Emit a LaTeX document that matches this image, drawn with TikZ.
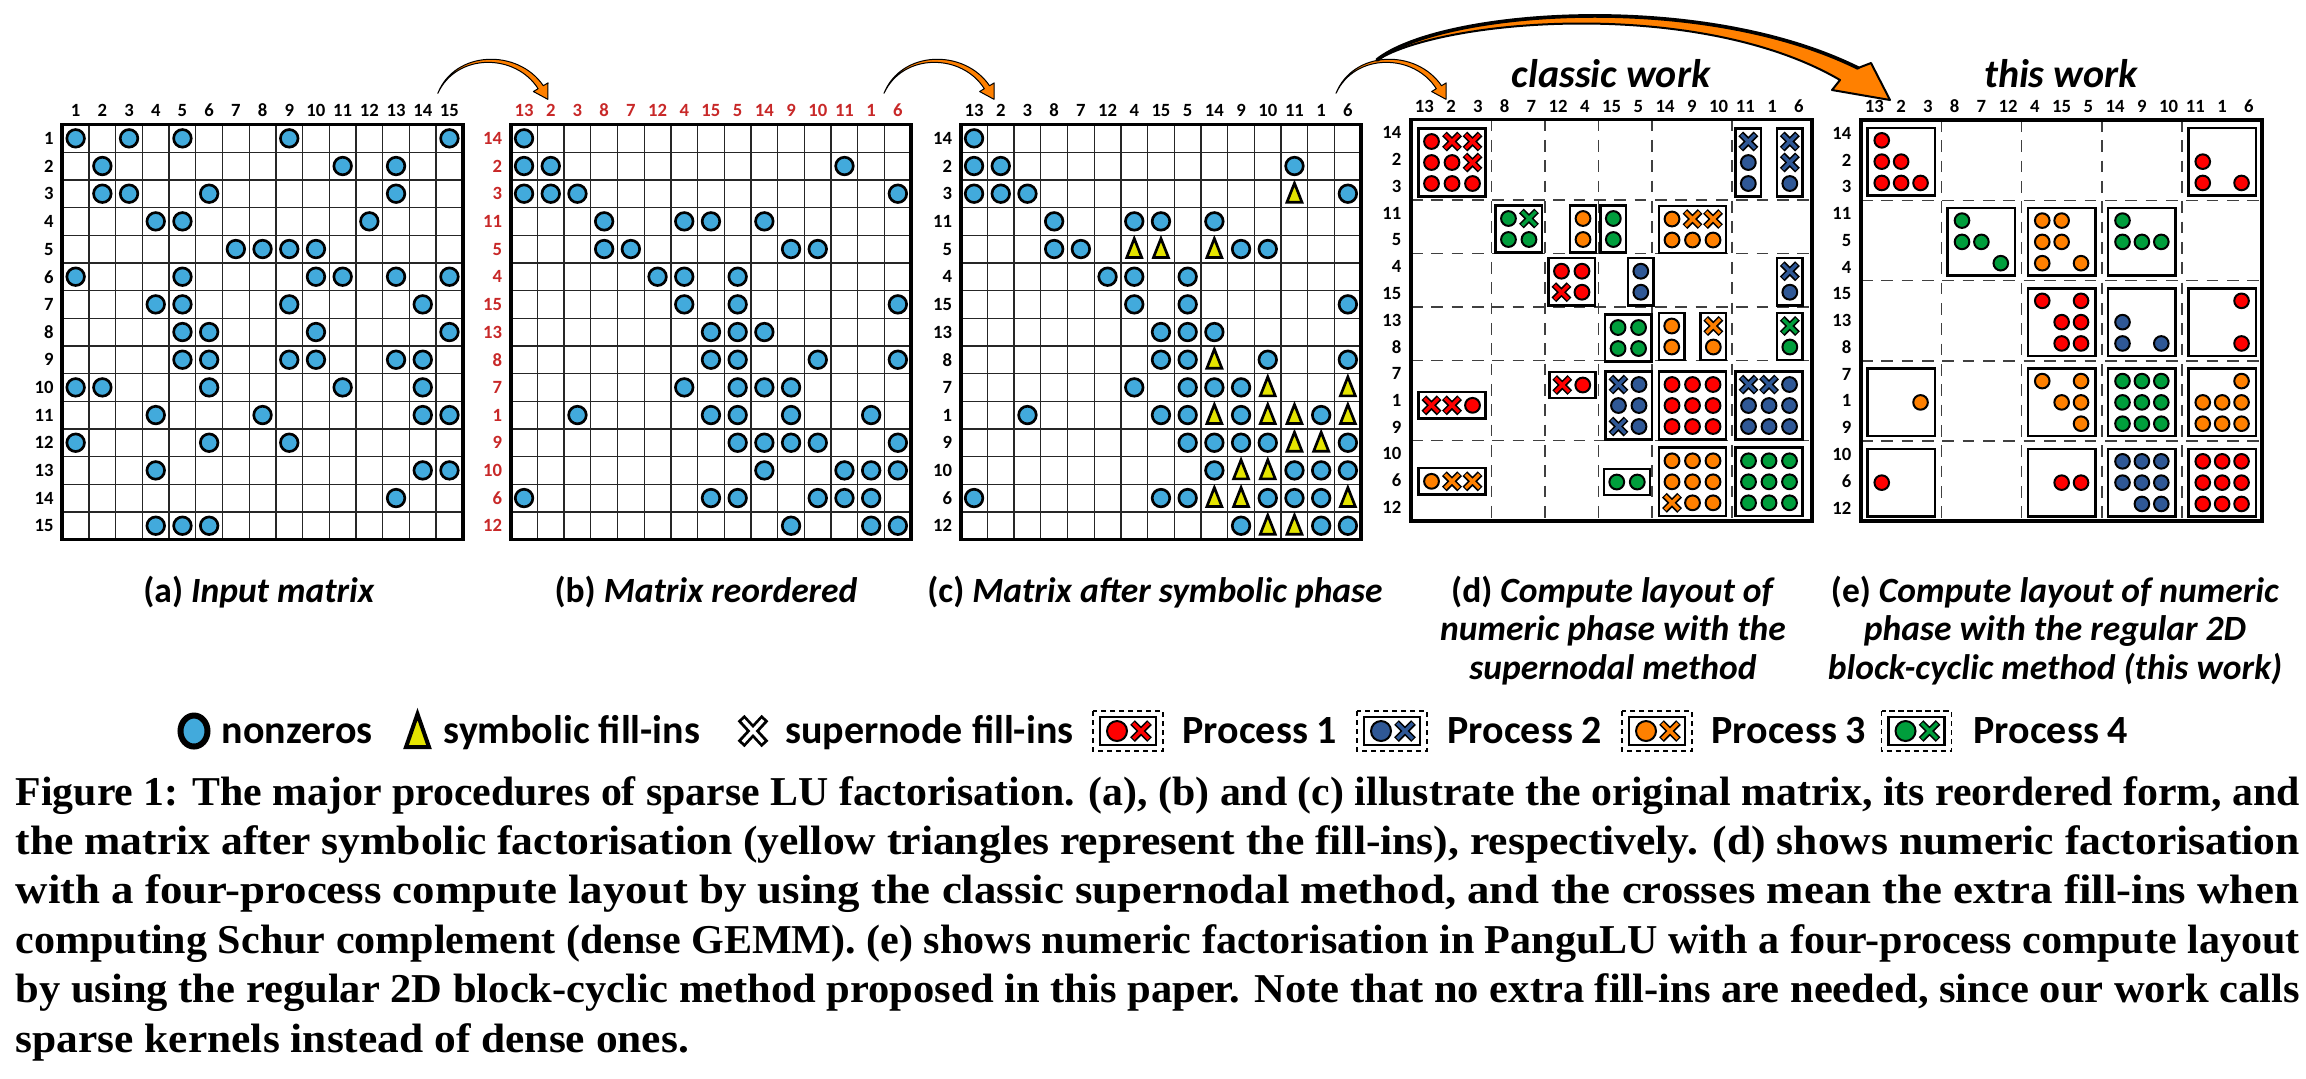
\documentclass[tikz,border=0pt]{standalone}
\usepackage{fontspec}
\setmainfont{Liberation Serif}
\newfontfamily\labf{Carlito}
\usepackage{graphicx}
\definecolor{nzblue}{RGB}{66,170,220}
\definecolor{fillyel}{RGB}{228,228,0}
\definecolor{pred}{RGB}{255,0,0}
\definecolor{pblue}{RGB}{47,88,150}
\definecolor{porange}{RGB}{255,128,0}
\definecolor{pgreen}{RGB}{0,158,60}
\definecolor{lblred}{RGB}{200,40,40}
\definecolor{arrorange}{RGB}{255,128,0}

\newcommand\nzc[2]{\filldraw[fill=nzblue,draw=black,line width=0.8pt] ({#1},{#2}) circle[radius=8.8];}
\newcommand\tric[2]{\filldraw[fill=fillyel,draw=black,line width=0.8pt,line join=miter] ({#1-7.5},{#2+8.5}) -- ({#1},{#2-10.5}) -- ({#1+7.5},{#2+8.5}) -- cycle;}
\newcommand\pcirc[4]{\filldraw[fill=#3,draw=black,line width=0.6pt] ({#1},{#2}) circle[radius=#4];}
\newcommand\pcross[4]{%
 \draw[black,line width=2pt] ({#1-#4},{#2-#4}) -- ({#1+#4},{#2+#4}) ({#1-#4},{#2+#4}) -- ({#1+#4},{#2-#4});
 \draw[#3,line width=1.0pt] ({#1-#4+0.8},{#2-#4+0.8}) -- ({#1+#4-0.8},{#2+#4-0.8}) ({#1-#4+0.8},{#2+#4-0.8}) -- ({#1+#4-0.8},{#2-#4+0.8});}
\newcommand\dblk[6]{%
 \filldraw[pbox] ({#1-#3*10.25-2.6},{#2-#4*10.5-2.6}) rectangle ({#1+#3*10.25+2.6},{#2+#4*10.5+2.6});
 \foreach \itm [count=\i from 0] in {#6} {%
  \pgfmathtruncatemacro\mycol{mod(\i,#3)}%
  \pgfmathtruncatemacro\myrow{floor(\i/#3)}%
  \pgfmathsetmacro\px{#1+(\mycol-(#3-1)/2)*20.5}%
  \pgfmathsetmacro\py{#2+(\myrow-(#4-1)/2)*21}%
  \if\itm O\pcirc{\px}{\py}{#5}{7.4}\fi
  \if\itm X\pcross{\px}{\py}{#5}{7.6}\fi
 }}
\newcommand\eblk[4]{%
 \pgfmathsetmacro\bx{1861+(3*#2-1.5)*26.75}%
 \pgfmathsetmacro\by{120+(3*#1-1.5)*26.75+1.5}%
 \filldraw[pbox] ({\bx-33.7},{\by-33.7}) rectangle ({\bx+33.7},{\by+33.7});
 \foreach \itm [count=\i from 0] in {#4} {%
  \pgfmathtruncatemacro\mycol{mod(\i,3)}%
  \pgfmathtruncatemacro\myrow{floor(\i/3)}%
  \pgfmathsetmacro\px{\bx+(\mycol-1)*19.4}%
  \pgfmathsetmacro\py{\by+(\myrow-1)*21.3}%
  \if\itm O\pcirc{\px}{\py}{#3}{7.3}\fi
 }}
\newcommand\matgrid{%
 \foreach \k in {1,...,14} {
  \draw[gridln] ({\xo+\k*\cw},\yo) -- ({\xo+\k*\cw},{\yo+15*\ch});
  \draw[gridln] (\xo,{\yo+\k*\ch}) -- ({\xo+15*\cw},{\yo+\k*\ch});
 }
 \draw[frame] (\xo,\yo) rectangle ({\xo+15*\cw},{\yo+15*\ch});}
\newcommand\putnz[1]{\foreach \rr/\cl in {#1} {\foreach \cc in \cl {\nzc{\xo+(\cc-0.5)*\cw}{\yo+(\rr-0.5)*\ch}}}}
\newcommand\puttri[1]{\foreach \rr/\cl in {#1} {\foreach \cc in \cl {\tric{\xo+(\cc-0.5)*\cw}{\yo+(\rr-0.5)*\ch}}}}
\newcommand\smallarrow[3]{%
 \begin{scope}[shift={(#1,#2)}]
 \filldraw[fill=arrorange,draw=black,line width=0.3pt,line join=round] (0,0) .. controls (17,-43) and (80,-45) .. (105.5,-7.6) -- (110.2,-10.4) -- (110,6) -- (95.6,-1.8) -- (100.3,-4.6) .. controls (78,-40) and (19,-41) .. (0,0) -- cycle;
 \coordinate (#3) at (0,0);
 \end{scope}}
\newcommand\legicon[3]{%
 \draw[black,line width=0.45pt,dash pattern=on 1.6pt off 1.1pt] ({#1-35},{#2-20}) rectangle ({#1+35},{#2+20});
 \filldraw[black,line width=0.8pt,fill=white] ({#1-28},{#2-14}) rectangle ({#1+28},{#2+14});
 \pcirc{#1-11}{#2}{#3}{10}
 \pcross{#1+13}{#2}{#3}{8.5}}
\def\perm{13,2,3,8,7,12,4,15,5,14,9,10,11,1,6}
\def\rperm{14,2,3,11,5,4,15,13,8,7,1,9,10,6,12}
\def\bcdata{1/{1},2/{1,2,13},3/{1,2,3,15},4/{4,7,8,10},5/{4,5,11,12},6/{6,7,9},7/{7,9,15},8/{8,9,10},9/{8,9,12,15},10/{7,9,10,11},11/{3,8,9,11,14},12/{9,10,11,12,15},13/{10,13,14,15},14/{1,8,9,12,13,14},15/{11,14,15}}

\begin{document}
\begin{tikzpicture}[x=0.3pt,y=-0.3pt,
 lab/.style={font=\labf\bfseries\fontsize{5.6}{6.5}\selectfont,inner sep=0pt},
 collab/.style={lab,anchor=base},
 rowlab/.style={lab,anchor=east},
 gridln/.style={line width=0.4pt,black!85},
 frame/.style={line width=1.1pt,black},
 dashln/.style={line width=0.45pt,black!75,dash pattern=on 3.5pt off 2.6pt},
 pbox/.style={draw=black,fill=white,line width=0.75pt},
 subcap/.style={font=\labf\bfseries\fontsize{10.65}{12}\selectfont,anchor=base,inner sep=0pt},
 ttl/.style={font=\labf\bfseries\itshape\fontsize{12}{14}\selectfont,anchor=base,inner sep=0pt},
 legtxt/.style={font=\labf\bfseries\fontsize{12}{14}\selectfont,anchor=base west,inner sep=0pt},
 captxt/.style={anchor=base west,inner sep=0pt,font=\bfseries\fontsize{12.3}{14}\selectfont}]
\useasboundingbox (0,0) rectangle (2306,1078);
\fill[white] (0,0) rectangle (2306,1078);

% ---------- (a)
\def\xo{62.3}\def\yo{124.5}\def\cw{26.7}\def\ch{27.67}
\matgrid
\putnz{1/{1,3,5,9,15},2/{2,11,13},3/{2,3,6,13},4/{4,5,12},5/{7,8,9,10},6/{1,5,10,11,13,15},7/{4,5,9,14},8/{5,6,10,15},9/{5,6,9,10,13,14},10/{1,2,6,11,14},11/{4,8,14,15},12/{1,6,9},13/{4,14,15},14/{13},15/{4,5,6}}
\foreach \i in {1,...,15} {
 \node[collab] (a-c\i) at ({\xo+(\i-0.5)*\cw},116) {\i};
 \node[rowlab] (a-r\i) at ({\xo-8},{\yo+(\i-0.5)*\ch}) {\i};
}
% ---------- (b)
\def\xo{510.7}
\matgrid
\expandafter\putnz\expandafter{\bcdata}
\foreach \lbl [count=\i] in \perm {\node[collab,text=lblred] (b-c\i) at ({\xo+(\i-0.5)*\cw},116) {\lbl};}
\foreach \lbl [count=\i] in \rperm {\node[rowlab,text=lblred] (b-r\i) at ({\xo-8},{\yo+(\i-0.5)*\ch}) {\lbl};}
% ---------- (c)
\def\xo{960.7}
\matgrid
\expandafter\putnz\expandafter{\bcdata}
\puttri{3/{13},5/{7,8,10},9/{10},10/{12,15},11/{10,12,13,15},12/{13,14},13/{11,12},14/{10,11,15},15/{12,13}}
\foreach \lbl [count=\i] in \perm {\node[collab] (c-c\i) at ({\xo+(\i-0.5)*\cw},116) {\lbl};}
\foreach \lbl [count=\i] in \rperm {\node[rowlab] (c-r\i) at ({\xo-8},{\yo+(\i-0.5)*\ch}) {\lbl};}

% ---------- (d)
\def\xo{1411}\def\yo{119.5}\def\cw{26.75}\def\ch{26.75}
\foreach \k in {3,5,7,9,12} {
 \draw[dashln] ({\xo+\k*\cw},\yo) -- ({\xo+\k*\cw},{\yo+15*\ch});
 \draw[dashln] (\xo,{\yo+\k*\ch}) -- ({\xo+15*\cw},{\yo+\k*\ch});
}
\draw[frame] (\xo,\yo) rectangle ({\xo+15*\cw},{\yo+15*\ch});
\foreach \lbl [count=\i] in \perm {\node[collab] (d-c\i) at ({\xo+(\i-0.5)*\cw},112) {\lbl};}
\foreach \lbl [count=\i] in \rperm {\node[rowlab] (d-r\i) at ({\xo-9},{\yo+(\i-0.5)*\ch}) {\lbl};}
\dblk{1452}{162.5}{3}{3}{pred}{O,X,X,O,O,X,O,O,O}
\dblk{1748.3}{162.5}{1}{3}{pblue}{X,O,O}
\dblk{1789.8}{162.5}{1}{3}{pblue}{X,X,O}
\dblk{1518.7}{229}{2}{2}{pgreen}{O,X,O,O}
\dblk{1583}{229}{1}{2}{porange}{O,O}
\dblk{1613.3}{229}{1}{2}{pgreen}{O,O}
\dblk{1692.5}{229.5}{3}{2}{porange}{O,X,X,O,O,O}
\dblk{1571.7}{281.7}{2}{2}{pred}{O,O,X,O}
\dblk{1640.8}{281.7}{1}{2}{pblue}{O,O}
\dblk{1789.8}{281.7}{1}{2}{pblue}{X,O}
\dblk{1628.3}{338}{2}{2}{pgreen}{O,O,O,O}
\dblk{1671.7}{336.5}{1}{2}{porange}{O,O}
\dblk{1713.3}{336.5}{1}{2}{porange}{X,O}
\dblk{1789.8}{336.5}{1}{2}{pgreen}{X,O}
\dblk{1452}{405.3}{3}{1}{pred}{X,X,O}
\dblk{1572.5}{385}{2}{1}{pred}{X,O}
\dblk{1628.7}{405.5}{2}{3}{pblue}{X,O,O,O,X,O}
\dblk{1692.5}{405.5}{3}{3}{pred}{O,O,O,O,O,O,O,O,O}
\dblk{1769}{405.5}{3}{3}{pblue}{X,X,O,O,O,O,O,O,O}
\dblk{1452}{481.3}{3}{1}{porange}{O,X,X}
\dblk{1627}{482}{2}{1}{pgreen}{O,O}
\dblk{1692.5}{481.8}{3}{3}{porange}{O,O,O,O,O,O,X,O,O}
\dblk{1769}{481.8}{3}{3}{pgreen}{O,O,O,O,O,O,O,O,O}
\node[ttl] (ttl-d) at (1611,87) {classic work};

% ---------- (e)
\def\xo{1861}\def\yo{120}
\foreach \k in {3,6,9,12} {
 \draw[dashln] ({\xo+\k*\cw},\yo) -- ({\xo+\k*\cw},{\yo+15*\ch});
 \draw[dashln] (\xo,{\yo+\k*\ch}) -- ({\xo+15*\cw},{\yo+\k*\ch});
}
\draw[frame] (\xo,\yo) rectangle ({\xo+15*\cw},{\yo+15*\ch});
\foreach \lbl [count=\i] in \perm {\node[collab] (e-c\i) at ({\xo+(\i-0.5)*\cw},112) {\lbl};}
\foreach \lbl [count=\i] in \rperm {\node[rowlab] (e-r\i) at ({\xo-9},{\yo+(\i-0.5)*\ch}) {\lbl};}
\eblk{1}{1}{pred}{O,-,-,O,O,-,O,O,O}
\eblk{1}{5}{pred}{-,-,-,O,-,-,O,-,O}
\eblk{2}{2}{pgreen}{O,-,-,O,O,-,-,-,O}
\eblk{2}{3}{porange}{O,O,-,O,O,-,O,-,O}
\eblk{2}{4}{pgreen}{O,-,-,O,O,O,-,-,-}
\eblk{3}{3}{pred}{O,-,O,-,O,O,-,O,O}
\eblk{3}{4}{pblue}{-,-,-,O,-,-,O,-,O}
\eblk{3}{5}{pred}{-,-,O,-,-,-,-,-,O}
\eblk{4}{1}{porange}{-,-,-,-,-,O,-,-,-}
\eblk{4}{3}{porange}{O,-,O,-,O,O,-,-,O}
\eblk{4}{4}{pgreen}{O,O,O,O,O,O,O,O,O}
\eblk{4}{5}{porange}{-,-,O,O,O,O,O,O,O}
\eblk{5}{1}{pred}{-,-,-,O,-,-,-,-,-}
\eblk{5}{3}{pred}{-,-,-,-,O,O,-,-,-}
\eblk{5}{4}{pblue}{O,O,O,O,O,O,-,O,O}
\eblk{5}{5}{pred}{O,O,O,O,O,O,O,O,O}
\node[ttl] (ttl-e) at (2061,87) {this work};

% ---------- arrows
\smallarrow{437.8}{93.3}{arrA}
\smallarrow{884}{93.3}{arrB}
\smallarrow{1336}{93.3}{arrC}
\filldraw[fill=arrorange,draw=black,line width=0.6pt,line join=round] (1377,60) .. controls (1440,10) and (1700,-10) .. (1858,68) -- (1871,63) -- (1890,100) -- (1832,90) -- (1840,80) .. controls (1700,-2) and (1445,18) .. (1377,60) -- cycle;
\draw[black,line width=1.1pt,line cap=round] (1377,60) .. controls (1440,10) and (1700,-10) .. (1858,68);

% ---------- sub-captions
\node[subcap] (capa) at (259,602) {(a) \textit{Input matrix}};
\node[subcap] (capb) at (706,602) {(b) \textit{Matrix reordered}};
\node[subcap] (capc) at (1155,602) {(c) \textit{Matrix after symbolic phase}};
\node[subcap] (capd1) at (1613,602) {(d) \textit{Compute layout of}};
\node[subcap] (capd2) at (1613,640.5) {\textit{numeric phase with the}};
\node[subcap] (capd3) at (1613,679) {\textit{supernodal method}};
\node[subcap] (cape1) at (2055,602) {(e) \textit{Compute layout of numeric}};
\node[subcap] (cape2) at (2055,640.5) {\textit{phase with the regular 2D}};
\node[subcap] (cape3) at (2055,679) {\textit{block-cyclic method (this work)}};

% ---------- legend
\filldraw[fill=nzblue,draw=black,line width=1.8pt] (194,731) ellipse[x radius=13.5,y radius=15.5];
\node[legtxt] (lg1) at (221,743) {nonzeros};
\filldraw[fill=fillyel,draw=black,line width=1.2pt,line join=miter] (406,747) -- (417.5,714) -- (429,747) -- cycle;
\node[legtxt] (lg2) at (443,743) {symbolic fill-ins};
\draw[black,line width=2.8pt] (741,718) -- (765,744) (741,744) -- (765,718);
\draw[white,line width=1.1pt] (743,720) -- (763,742) (743,742) -- (763,720);
\node[legtxt] (lg3) at (784.6,743) {supernode fill-ins};
\legicon{1128}{731}{pred}
\node[legtxt] (lg4) at (1182,743) {Process 1};
\legicon{1392}{731}{pblue}
\node[legtxt] (lg5) at (1447,743) {Process 2};
\legicon{1657}{731}{porange}
\node[legtxt] (lg6) at (1711,743) {Process 3};
\legicon{1916.5}{731}{pgreen}
\node[legtxt] (lg7) at (1973,743) {Process 4};

% ---------- caption
\node[captxt] (cap1) at (15,805) {\resizebox{685.2pt}{\height}{Figure 1: The major procedures of sparse LU factorisation. (a), (b) and (c) illustrate the original matrix, its reordered form, and}};
\node[captxt] (cap2) at (15,854.4) {\resizebox{685.2pt}{\height}{the matrix after symbolic factorisation (yellow triangles represent the fill-ins), respectively. (d) shows numeric factorisation}};
\node[captxt] (cap3) at (15,903.8) {\resizebox{685.2pt}{\height}{with a four-process compute layout by using the classic supernodal method, and the crosses mean the extra fill-ins when}};
\node[captxt] (cap4) at (15,953.2) {\resizebox{685.2pt}{\height}{computing Schur complement (dense GEMM). (e) shows numeric factorisation in PanguLU with a four-process compute layout}};
\node[captxt] (cap5) at (15,1002.6) {\resizebox{685.2pt}{\height}{by using the regular 2D block-cyclic method proposed in this paper. Note that no extra fill-ins are needed, since our work calls}};
\node[captxt] (cap6) at (15,1052) {\resizebox{202pt}{\height}{sparse kernels instead of dense ones.}};
\end{tikzpicture}
\end{document}
